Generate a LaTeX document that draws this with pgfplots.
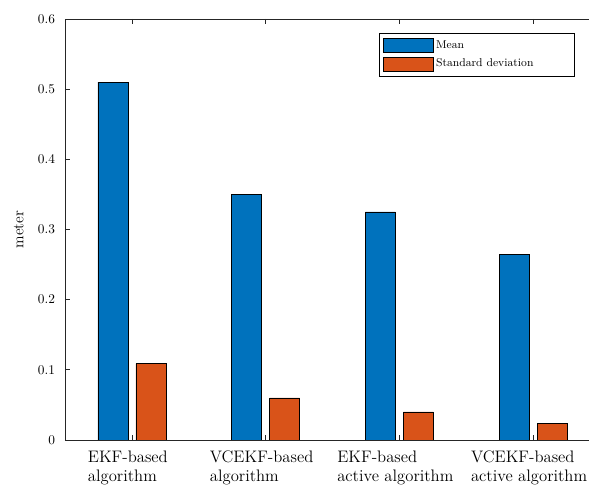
\documentclass[border=0pt]{standalone}
\usepackage{pgfplots}
\pgfplotsset{compat=1.18}
\definecolor{mblue}{rgb}{0,0.447,0.741}
\definecolor{morange}{rgb}{0.85,0.325,0.098}
\begin{document}
\begin{tikzpicture}
\path[use as bounding box, clip] (-48.75pt,-33.75pt) rectangle (393pt,330pt);
\begin{axis}[
  scale only axis, width=401.25pt, height=315.75pt,
  xmin=0.5, xmax=4.5, ymin=0, ymax=0.6,
  xtick={1,2,3,4},
  xticklabels={{EKF-based\\algorithm},{VCEKF-based\\algorithm},{EKF-based\\active algorithm},{VCEKF-based\\active algorithm}},
  xticklabel style={align=left, font=\fontsize{12.5}{14.5}\selectfont, yshift=-4.5pt, xshift=-3pt},
  ytick={0,0.1,0.2,0.3,0.4,0.5,0.6},
  yticklabel style={xshift=-4pt},
  tick align=inside, major tick length=4pt,
  tick style={black!85, line width=0.5pt},
  axis line style={black!85, line width=0.6pt},
  ylabel={meter}, ylabel style={font=\fontsize{11.5}{13}\selectfont}, ylabel shift=4pt,
  legend style={at={(0.587,0.967)}, anchor=north west, draw=black, line width=0.5pt,
    font=\fontsize{8.5}{10}\selectfont, inner xsep=3pt, inner ysep=3.5pt, row sep=2.5pt},
  legend cell align=left,
  legend image code/.code={\draw[#1] (0pt,-5.2pt) rectangle (37pt,5.2pt);},
]
\addplot[ybar, bar width=22.5pt, bar shift=-14.25pt, fill=mblue, draw=black, line width=0.5pt]
  coordinates {(1,0.51) (2,0.35) (3,0.325) (4,0.264)};
\addplot[ybar, bar width=22.5pt, bar shift=14.25pt, fill=morange, draw=black, line width=0.5pt]
  coordinates {(1,0.109) (2,0.06) (3,0.04) (4,0.024)};
\legend{Mean, Standard deviation\rule{26pt}{0pt}}
\end{axis}
\end{tikzpicture}
\end{document}
